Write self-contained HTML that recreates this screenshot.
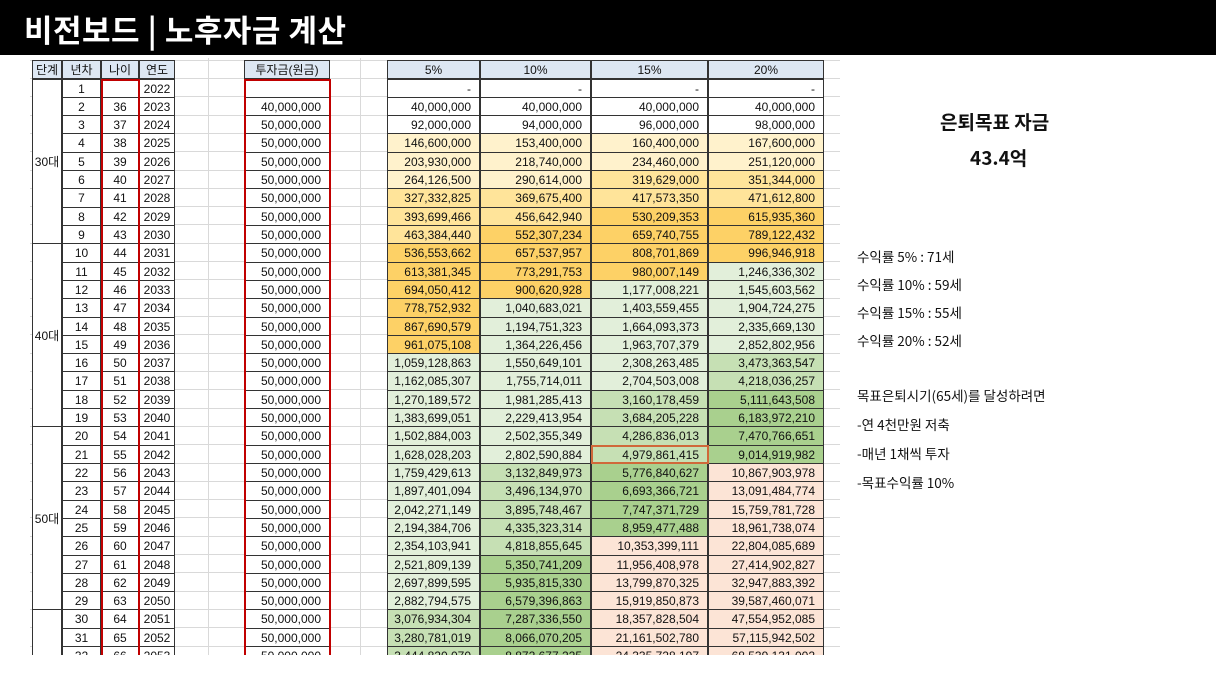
<!DOCTYPE html>
<html><head><meta charset="utf-8">
<style>
html,body{margin:0;padding:0;background:#fff;}
body{width:1216px;height:684px;position:relative;overflow:hidden;font-family:"Liberation Sans","Noto Sans CJK KR",sans-serif;}
#topbar{position:absolute;left:0;top:0;width:1216px;height:55px;background:#000;}
#title{position:absolute;left:24px;top:6px;color:#fff;font-size:31px;font-weight:bold;font-family:"Noto Sans CJK KR","NanumGothic",sans-serif;letter-spacing:0.5px;}
#sheet{position:absolute;left:0;top:0;width:840px;height:655px;overflow:hidden;}
.c{position:absolute;box-sizing:border-box;font-size:12px;line-height:18px;color:#111;white-space:nowrap;font-family:"Liberation Sans","Noto Sans CJK KR",sans-serif;}
.r{text-align:right;padding-right:8px;}
.m{text-align:center;}
.g{position:absolute;background:#d9d9d9;}
.side{position:absolute;font-family:"Noto Sans CJK KR","Liberation Sans",sans-serif;color:#111;white-space:nowrap;}
</style></head>
<body>
<div id="topbar"><div id="title">비전보드 | 노후자금 계산</div></div>
<div id="sheet"></div>

<div class="side" style="left:940px;top:108px;font-size:19px;font-weight:bold;">은퇴목표 자금</div>
<div class="side" style="left:970px;top:144px;font-size:19px;font-weight:bold;">43.4억</div>
<div class="side" style="left:857px;top:246px;font-size:13.5px;">수익률 5% : 71세</div>
<div class="side" style="left:857px;top:274px;font-size:13.5px;">수익률 10% : 59세</div>
<div class="side" style="left:857px;top:302px;font-size:13.5px;">수익률 15% : 55세</div>
<div class="side" style="left:857px;top:330px;font-size:13.5px;">수익률 20% : 52세</div>
<div class="side" style="left:857px;top:385px;font-size:13.5px;">목표은퇴시기(65세)를 달성하려면</div>
<div class="side" style="left:857px;top:414px;font-size:13.5px;">-연 4천만원 저축</div>
<div class="side" style="left:857px;top:443px;font-size:13.5px;">-매년 1채씩 투자</div>
<div class="side" style="left:857px;top:472px;font-size:13.5px;">-목표수익률 10%</div>

<script>
const years = [2022,2023,2024,2025,2026,2027,2028,2029,2030,2031,2032,2033,2034,2035,2036,2037,2038,2039,2040,2041,2042,2043,2044,2045,2046,2047,2048,2049,2050,2051,2052,2053];
const ages = [null,36,37,38,39,40,41,42,43,44,45,46,47,48,49,50,51,52,53,54,55,56,57,58,59,60,61,62,63,64,65,66];
const invest = [null,40000000,50000000,50000000,50000000,50000000,50000000,50000000,50000000,50000000,50000000,50000000,50000000,50000000,50000000,50000000,50000000,50000000,50000000,50000000,50000000,50000000,50000000,50000000,50000000,50000000,50000000,50000000,50000000,50000000,50000000,50000000];
const s5 = [null,40000000,92000000,146600000,203930000,264126500,327332825,393699466,463384440,536553662,613381345,694050412,778752932,867690579,961075108,1059128863,1162085307,1270189572,1383699051,1502884003,1628028203,1759429613,1897401094,2042271149,2194384706,2354103941,2521809139,2697899595,2882794575,3076934304,3280781019,3444820070];
const s10 = [null,40000000,94000000,153400000,218740000,290614000,369675400,456642940,552307234,657537957,773291753,900620928,1040683021,1194751323,1364226456,1550649101,1755714011,1981285413,2229413954,2502355349,2802590884,3132849973,3496134970,3895748467,4335323314,4818855645,5350741209,5935815330,6579396863,7287336550,8066070205,8872677225];
const s15 = [null,40000000,96000000,160400000,234460000,319629000,417573350,530209353,659740755,808701869,980007149,1177008221,1403559455,1664093373,1963707379,2308263485,2704503008,3160178459,3684205228,4286836013,4979861415,5776840627,6693366721,7747371729,8959477488,10353399111,11956408978,13799870325,15919850873,18357828504,21161502780,24335728197];
const s20 = [null,40000000,98000000,167600000,251120000,351344000,471612800,615935360,789122432,996946918,1246336302,1545603562,1904724275,2335669130,2852802956,3473363547,4218036257,5111643508,6183972210,7470766651,9014919982,10867903978,13091484774,15759781728,18961738074,22804085689,27414902827,32947883392,39587460071,47554952085,57115942502,68539131002];
const groups = [{label:'30대',start:0,end:9},{label:'40대',start:9,end:19},{label:'50대',start:19,end:29},{label:'',start:29,end:32}];

const sheet = document.getElementById('sheet');
const top0 = 78.5, rh = 18.31;
const rowY = i => top0 + i*rh;
const fmt = v => v==null ? '' : v.toLocaleString('en-US');
function colorFor(v){
  if(v==null) return '#fff';
  if(v<1e8) return '#ffffff';
  if(v<3e8) return '#fff2cc';
  if(v<5e8) return '#ffe49a';
  if(v<1e9) return '#fdd166';
  if(v<3e9) return '#e2efda';
  if(v<5e9) return '#c6e0b4';
  if(v<1e10) return '#a9d08e';
  return '#fce4d6';
}
function cell(x,y,w,h,text,cls,bg,name){
  const d=document.createElement('div');
  d.className='c '+(cls||'');
  d.style.left=x+'px';d.style.top=y+'px';d.style.width=w+'px';d.style.height=h+'px';
  d.style.lineHeight=h+'px';
  if(bg) d.style.background=bg;
  d.style.border='1px solid #333';
  d.textContent=text;
  
  
  sheet.appendChild(d);
  return d;
}
// background gridlines
for(let i=0;i<=33;i++){
  const l=document.createElement('div');l.className='g';
  l.style.left='30px';l.style.top=(rowY(i)-0.5)+'px';l.style.width='810px';l.style.height='1px';
  
  
  sheet.appendChild(l);
}
l0=document.createElement('div');l0.className='g';l0.style.left='30px';l0.style.top='60px';l0.style.width='810px';l0.style.height='1px';


sheet.appendChild(l0);
[208,360].forEach(x=>{
  const l=document.createElement('div');l.className='g';
  l.style.left=x+'px';l.style.top='58px';l.style.width='1px';l.style.height='600px';
  
  
  sheet.appendChild(l);
});
const hdrBg='#dde7f3';
const cols = {stage:[32,62],yr:[62,101],age:[101,139],year:[139,175],inv:[244,330],c5:[387,480],c10:[480,591],c15:[591,708],c20:[708,824]};
const hy=60, hh=19;
cell(cols.stage[0],hy,30,hh,'단계','m',hdrBg,'header-stage');
cell(cols.yr[0],hy,39,hh,'년차','m',hdrBg,'header-year-index');
cell(cols.age[0],hy,38,hh,'나이','m',hdrBg,'header-age');
cell(cols.year[0],hy,36,hh,'연도','m',hdrBg,'header-year');
cell(cols.inv[0],hy,86,hh,'투자금(원금)','m',hdrBg,'header-investment');
cell(cols.c5[0],hy,93,hh,'5%','m',hdrBg,'header-rate-5');
cell(cols.c10[0],hy,111,hh,'10%','m',hdrBg,'header-rate-10');
cell(cols.c15[0],hy,117,hh,'15%','m',hdrBg,'header-rate-15');
cell(cols.c20[0],hy,116,hh,'20%','m',hdrBg,'header-rate-20');
groups.forEach(g=>{
  const y=rowY(g.start), h=rowY(g.end)-y;
  cell(cols.stage[0],y,30,h+1,g.label,'m','#fff','stage-group');
});
const series=[[s5,'c5','rate-5'],[s10,'c10','rate-10'],[s15,'c15','rate-15'],[s20,'c20','rate-20']];
years.forEach((yv,i)=>{
  const y=rowY(i), h=rh+1;
  cell(cols.yr[0],y,39,h,String(i+1),'m','#fff','year-index-cell');
  cell(cols.age[0],y,38,h,ages[i]==null?'':String(ages[i]),'m','#fff','age-cell');
  cell(cols.year[0],y,36,h,String(yv),'m','#fff','year-cell');
  cell(cols.inv[0],y,86,h,fmt(invest[i]),'r','#fff','investment-cell');
  series.forEach(([arr,k,nm])=>{
    const [x0,x1]=cols[k];
    const d=cell(x0,y,x1-x0,h,arr[i]==null?'-':fmt(arr[i]),'r',colorFor(arr[i]),'value-'+nm);
  });
});
// highlighted cell
(function(){
  const i=20,[x0,x1]=cols.c15;
  const b=document.createElement('div');
  b.style.cssText='position:absolute;box-sizing:border-box;border:2px solid #d0683a;';
  b.style.left=(x0)+'px';b.style.top=rowY(i)+'px';b.style.width=(x1-x0+1)+'px';b.style.height=(rh+1)+'px';
  
  
  sheet.appendChild(b);
})();
// red outlines for age and investment columns
[[cols.age[0],38],[cols.inv[0],86]].forEach(([x,w],k)=>{
  const b=document.createElement('div');
  b.style.cssText='position:absolute;box-sizing:border-box;border:2px solid #c00000;border-bottom:none;';
  b.style.left=x+'px';b.style.top=rowY(0)+'px';b.style.width=(w+1)+'px';b.style.height='620px';
  
  
  sheet.appendChild(b);
});
</script>
</body></html>
